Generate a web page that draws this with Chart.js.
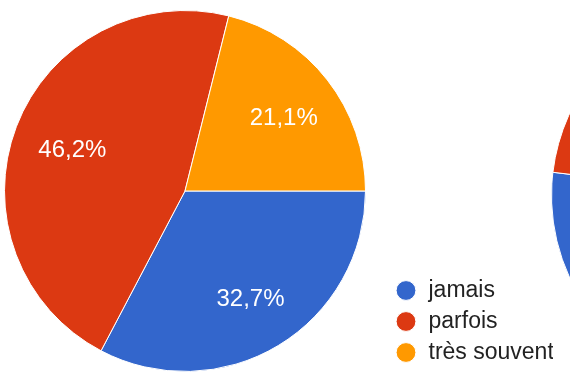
<!DOCTYPE html>
<html>
<head>
<meta charset="utf-8">
<script src="https://cdn.jsdelivr.net/npm/chart.js@4"></script>
<style>
    html, body { margin: 0; padding: 0; background: #fff; }
    body { width: 570px; height: 372px; overflow: hidden; position: relative; }
    #mainPie { position: absolute; left: -17px; top: 0; }
    #nextPie { position: absolute; left: 551px; top: 0; }
</style>
</head>
<body>
<canvas id="mainPie" width="570" height="372"></canvas>
<canvas id="nextPie" width="391" height="391"></canvas>
<script>
const answerLabels = ['jamais', 'parfois', 'très souvent'];
const answerColors = ['#3366cc', '#dc3912', '#ff9900'];

// percentages for the question shown in full
const mainShares = [32.7, 46.2, 21.1];
// percentages for the next question (only its left edge fits on the page)
const nextShares = [51.9, 38.5, 9.6];

const FONT = 'Arial, "Liberation Sans", sans-serif';

const toPercent = (v) => `${v.toFixed(1).replace('.', ',')}%`;

// writes each slice's percentage inside the slice
const sliceLabels = {
    id: 'sliceLabels',
    afterDatasetsDraw(chart) {
        let ctx = chart.ctx;
        let meta = chart.getDatasetMeta(0);
        let values = chart.data.datasets[0].data;
        ctx.save();
        ctx.fillStyle = '#ffffff';
        ctx.font = `24px ${FONT}`;
        ctx.textAlign = 'center';
        ctx.textBaseline = 'middle';
        meta.data.forEach((arc, i) => {
            let p = arc.getProps(['x', 'y', 'startAngle', 'endAngle', 'outerRadius'], true);
            let mid = (p.startAngle + p.endAngle) / 2;
            let d = p.outerRadius * 0.68;
            ctx.fillText(toPercent(values[i]), p.x + Math.cos(mid) * d + 2, p.y + Math.sin(mid) * d + 3);
        });
        ctx.restore();
    },
};

const makePie = (id, shares, withLegend) => {
    let ctx = document.getElementById(id).getContext('2d');
    return new Chart(ctx, {
        type: 'pie',
        data: {
            labels: answerLabels,
            datasets: [
                {
                    data: shares,
                    backgroundColor: answerColors,
                    borderColor: '#ffffff',
                    borderWidth: 1,
                },
            ],
        },
        options: {
            responsive: false,
            animation: false,
            devicePixelRatio: 1,
            rotation: 90,
            layout: { padding: withLegend ? { top: 10, left: 0, right: 0, bottom: 0 } : 0 },
            plugins: {
                tooltip: { enabled: false },
                legend: {
                    display: withLegend,
                    position: 'right',
                    align: 'end',
                    maxWidth: 166,
                    labels: {
                        usePointStyle: true,
                        pointStyle: 'circle',
                        boxWidth: 22,
                        boxHeight: 14,
                        padding: 8,
                        color: '#222222',
                        font: { family: FONT, size: 23 },
                    },
                },
            },
        },
        plugins: [sliceLabels],
    });
};

makePie('mainPie', mainShares, true);
makePie('nextPie', nextShares, false);
</script>
</body>
</html>
